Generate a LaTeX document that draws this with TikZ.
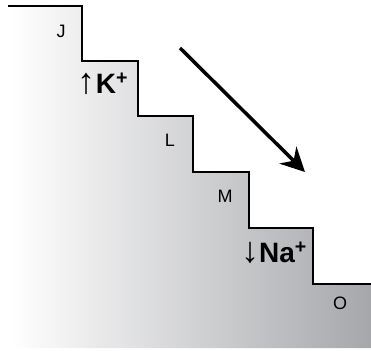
\documentclass[tikz,border=0pt]{standalone}
\usepackage{fontspec}
\setmainfont{Liberation Sans}
\usetikzlibrary{arrows.meta}
\definecolor{stairgray}{RGB}{166,167,171}
\newcommand{\ionarrow}[1]{{\fontsize{36}{36}\selectfont#1}}
\tikzset{
  steplabel/.style={font=\fontsize{18}{20}\selectfont},
  ionlabel/.style={font=\fontsize{28}{30}\selectfont\bfseries,inner sep=0pt}
}
\begin{document}
\begin{tikzpicture}[x=1pt,y=-1pt]
\useasboundingbox (0,0) rectangle (371,350);
% shaded stairs
\shade[left color=white,right color=stairgray] (10,6) -- (82,6) -- (82,61) -- (138,61) -- (138,116) -- (193,116) -- (193,172) -- (249,172) -- (249,228) -- (313,228) -- (313,284) -- (371,284) -- (371,348) -- (10,348) -- cycle;
\draw[line width=2.5pt] (8,6) -- (82,6) -- (82,61) -- (138,61) -- (138,116) -- (193,116) -- (193,172) -- (249,172) -- (249,228) -- (313,228) -- (313,284) -- (371,284);
% labels
\node[steplabel] (J) at (61,31) {J};
\node[ionlabel] (K) at (103,84) {\ionarrow{↑}K\textsuperscript{+}};
\node[steplabel] (L) at (170,140) {L};
\node[steplabel] (M) at (225,196) {M};
\node[ionlabel] (Na) at (274,253) {\ionarrow{↓}Na\textsuperscript{+}};
\node[steplabel] (O) at (340,303) {O};
% arrow
\coordinate (start) at (180,48);
\coordinate (end) at (305,172);
\draw[line width=3.5pt,-{Stealth[length=24pt,width=24pt,inset=8pt]}] (start) -- (end);
\end{tikzpicture}
\end{document}
